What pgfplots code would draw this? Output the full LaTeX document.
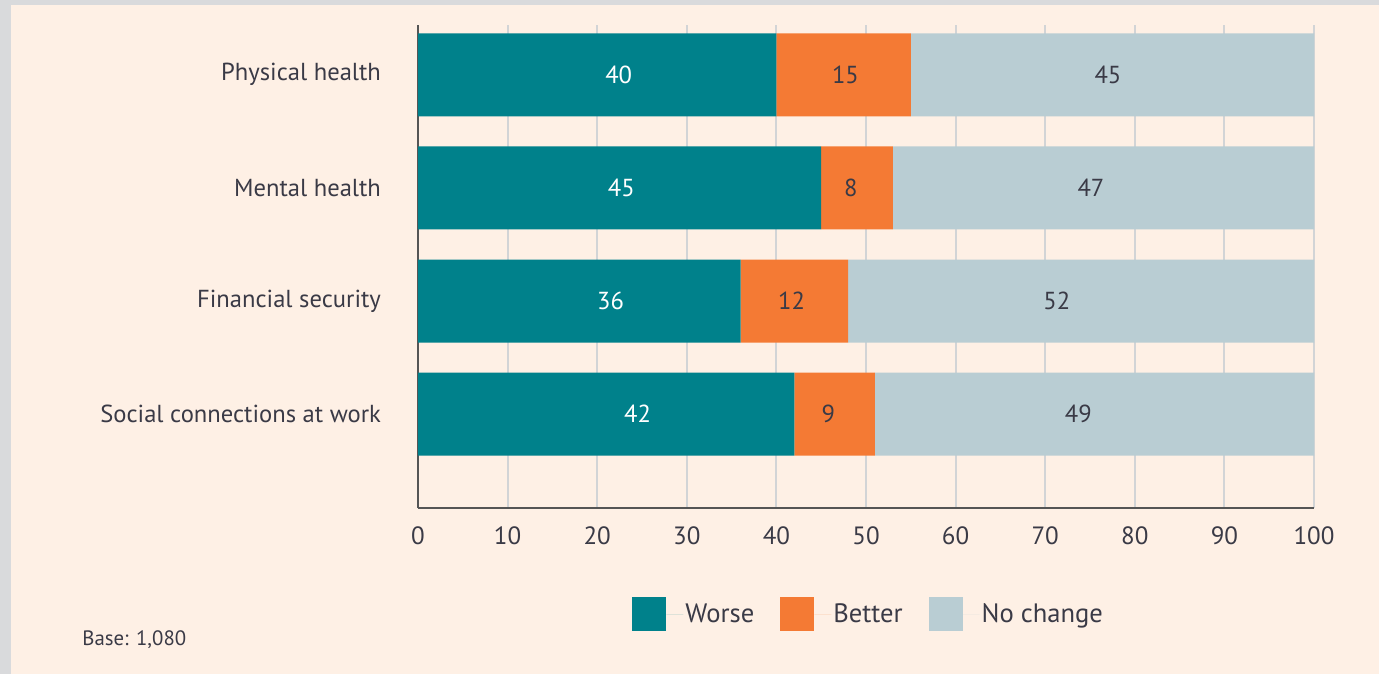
\documentclass[border=0pt]{standalone}
\usepackage{pgfplots}
\pgfplotsset{compat=1.18}
\usepackage{fontspec}
\setmainfont{PT Sans}
\definecolor{bordergray}{HTML}{D9DADC}
\definecolor{peach}{HTML}{FEF0E5}
\definecolor{teal1}{HTML}{00818B}
\definecolor{orange1}{HTML}{F47A34}
\definecolor{grayblue}{HTML}{B9CDD3}
\definecolor{txt}{HTML}{3A3A46}
\definecolor{axisgray}{HTML}{555555}
\definecolor{gridgray}{HTML}{D2D4D6}
\begin{document}
\begin{tikzpicture}
\fill[bordergray] (0,0) rectangle (689.5pt,-337pt);
\fill[peach] (5.5pt,-2.5pt) rectangle (689.5pt,-337pt);
\begin{axis}[
  at={(209pt,-254pt)}, anchor=south west,
  scale only axis, width=448pt, height=241.5pt,
  xbar stacked, bar width=41.5pt,
  xmin=0, xmax=100, ymin=-0.83, ymax=3.44,
  xtick={0,10,...,100},
  ytick={0,1,2,3},
  yticklabels={Social connections at work, Financial security, Mental health, Physical health},
  axis x line*=bottom, axis y line*=left,
  axis line style={-, draw=axisgray, line width=1pt},
  xmajorgrids, grid style={gridgray, line width=1pt},
  major tick length=0pt,
  tick label style={text=txt},
  yticklabel style={font=\fontsize{12.3}{14}\selectfont, xshift=-15pt},
  /pgf/number format/assume math mode=true,
  xticklabel style={font=\fontsize{12.5}{14}\selectfont, yshift=-6pt},
  legend style={at={(0.503,-0.22)}, anchor=center, draw=none, fill=none,
    legend columns=3, font=\fontsize{13.3}{15}\selectfont, text=txt,
    /tikz/every even column/.append style={column sep=12pt},
    nodes={inner sep=1pt}},
  legend image code/.code={\fill[#1] (0pt,-8.5pt) rectangle (17pt,8.5pt);\path (17pt,0) -- (25.5pt,0);},
  legend cell align=left,
]
\addplot[fill=teal1, draw=none] coordinates {(42,0) (36,1) (45,2) (40,3)};
\addplot[fill=orange1, draw=none] coordinates {(9,0) (12,1) (8,2) (15,3)};
\addplot[fill=grayblue, draw=none] coordinates {(49,0) (52,1) (47,2) (45,3)};
\legend{Worse, Better, No change}
\end{axis}
\begin{axis}[
  at={(209pt,-254pt)}, anchor=south west,
  scale only axis, width=448pt, height=241.5pt,
  xmin=0, xmax=100, ymin=-0.83, ymax=3.44,
  hide axis,
  nodes near coords, point meta=explicit symbolic,
  every node near coord/.append style={anchor=center, font=\fontsize{12.3}{14}\selectfont},
]
\addplot[draw=none, mark=none, only marks, nodes near coords style={text=white}] coordinates {(24.5,0)[42] (21.5,1)[36] (22.7,2)[45] (22.4,3)[40]};
\addplot[draw=none, mark=none, only marks, nodes near coords style={text=txt}] coordinates {(45.8,0)[9] (41.7,1)[12] (48.3,2)[8] (47.7,3)[15]};
\addplot[draw=none, mark=none, only marks, nodes near coords style={text=txt}] coordinates {(73.7,0)[49] (71.3,1)[52] (75.1,2)[47] (77,3)[45]};
\end{axis}
\node[anchor=west, font=\fontsize{10.4}{12}\selectfont, text=txt, inner sep=0pt] at (41pt,-320pt) {Base: 1,080};
\end{tikzpicture}
\end{document}
